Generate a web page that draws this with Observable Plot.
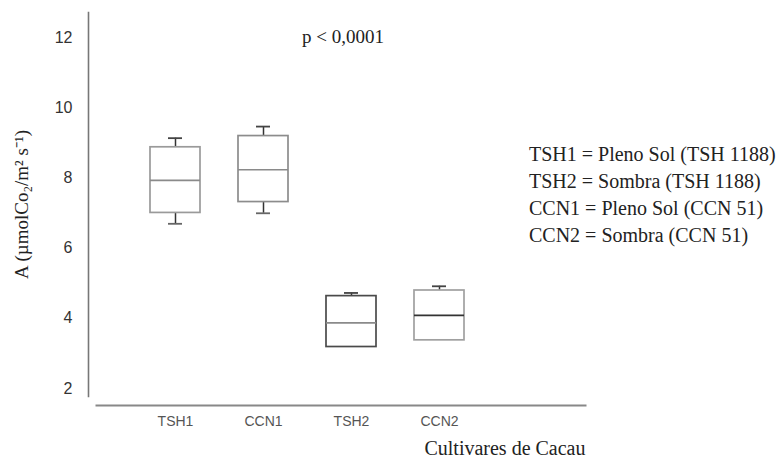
<!DOCTYPE html>
<html>
<head>
<meta charset="utf-8">
<script src="https://cdn.jsdelivr.net/npm/d3@7"></script>
<script src="https://cdn.jsdelivr.net/npm/@observablehq/plot@0.6"></script>
<style>
  body { margin: 0; background: #fff; }
  #fig { position: relative; width: 783px; height: 459px; }
  #legend {
    position: absolute; left: 529px; top: 141px;
    font: 20px "Liberation Serif", "Times New Roman", serif;
    line-height: 27px; color: #222; white-space: nowrap;
  }
  g[aria-label="y-axis label"] {
    font-family: "Liberation Serif", "Times New Roman", serif;
    font-size: 19px;
    color: #222;
  }
</style>
</head>
<body>
<div id="fig"><div id="legend"></div></div>
<script>
// Net photosynthesis (A) of cacao cultivars under full sun and shade
const cultivars   = ["TSH1", "CCN1", "TSH2", "CCN2"];
const whiskerLow  = [6.69, 6.99, 3.18, 3.37];
const q1          = [7.00, 7.31, 3.18, 3.37];
const median      = [7.93, 8.23, 3.87, 4.08];
const q3          = [8.87, 9.19, 4.63, 4.79];
const whiskerHigh = [9.13, 9.46, 4.72, 4.91];
const yTicks      = [2, 4, 6, 8, 10, 12];
const pValue      = "p < 0,0001";
const xTitle      = "Cultivares de Cacau";
const yTitle      = "A (µmolCo₂/m² s⁻¹)";
const legendLines = [
  "TSH1 = Pleno Sol (TSH 1188)",
  "TSH2 = Sombra (TSH 1188)",
  "CCN1 = Pleno Sol (CCN 51)",
  "CCN2 = Sombra (CCN 51)"
];

// box outline and median colours per cultivar
const boxStroke    = {TSH1: "#9a9a9a", CCN1: "#8c8c8c", TSH2: "#4a4a4a", CCN2: "#a0a0a0"};
const medianStroke = {TSH1: "#8a8a8a", CCN1: "#8a8a8a", TSH2: "#8a8a8a", CCN2: "#333333"};

const rows = cultivars.map((c, i) => ({
  cultivar: c, lo: whiskerLow[i], q1: q1[i], med: median[i], q3: q3[i], hi: whiskerHigh[i]
}));
const lowRows = rows.filter(d => d.lo < d.q1);

const sans = '"Liberation Sans Narrow", "Arial Narrow", "Liberation Sans", sans-serif';
const serif = '"Liberation Serif", "Times New Roman", serif';

const chart = Plot.plot({
  width: 783,
  height: 459,
  marginTop: 12,
  marginBottom: 63,
  marginLeft: 96,
  marginRight: 198,
  style: {background: "transparent", fontFamily: sans, fontSize: "16px", color: "#333"},
  x: {domain: cultivars, paddingInner: 0.43, paddingOuter: 0.99, align: 0.31},
  y: {domain: [1.77, 12.71]},
  color: {type: "identity"},
  marks: [
    Plot.frame({anchor: "left", insetLeft: -8, stroke: "#777", strokeWidth: 1.6}),
    Plot.frame({anchor: "bottom", insetBottom: -9, stroke: "#888", strokeWidth: 2}),
    Plot.axisY({
      ticks: yTicks, tickSize: 0, tickPadding: 24, fontSize: 16,
      label: yTitle, labelAnchor: "center", labelOffset: 82, labelArrow: "none"
    }),
    Plot.axisX({tickSize: 0, tickPadding: 20, fill: "#555", fontSize: 14, label: null}),
    Plot.text([xTitle], {
      frameAnchor: "bottom-right", textAnchor: "end", lineAnchor: "bottom",
      dy: 58, fontSize: 20, fontFamily: serif, fill: "#222"
    }),
    // whiskers and caps
    Plot.ruleX(rows, {x: "cultivar", y1: "q3", y2: "hi", stroke: "#333", strokeWidth: 1.5}),
    Plot.ruleX(lowRows, {x: "cultivar", y1: "lo", y2: "q1", stroke: "#333", strokeWidth: 1.5}),
    Plot.tickY(rows, {x: "cultivar", y: "hi", insetLeft: 18, insetRight: 18, stroke: "#444", strokeWidth: 1.8}),
    Plot.tickY(lowRows, {x: "cultivar", y: "lo", insetLeft: 18, insetRight: 18, stroke: "#666", strokeWidth: 1.8}),
    // interquartile boxes and medians
    Plot.barY(rows, {x: "cultivar", y1: "q1", y2: "q3", fill: "none",
      stroke: d => boxStroke[d.cultivar], strokeWidth: 1.7}),
    Plot.tickY(rows, {x: "cultivar", y: "med", stroke: d => medianStroke[d.cultivar], strokeWidth: 1.7}),
    Plot.text([pValue], {frameAnchor: "top", dx: 2, dy: 17, fontSize: 19, fontFamily: serif, fill: "#222"})
  ]
});

const fig = document.getElementById("fig");
fig.insertBefore(chart, fig.firstChild);
document.getElementById("legend").innerHTML = legendLines.map(t => `<div>${t}</div>`).join("");
</script>
</body>
</html>
